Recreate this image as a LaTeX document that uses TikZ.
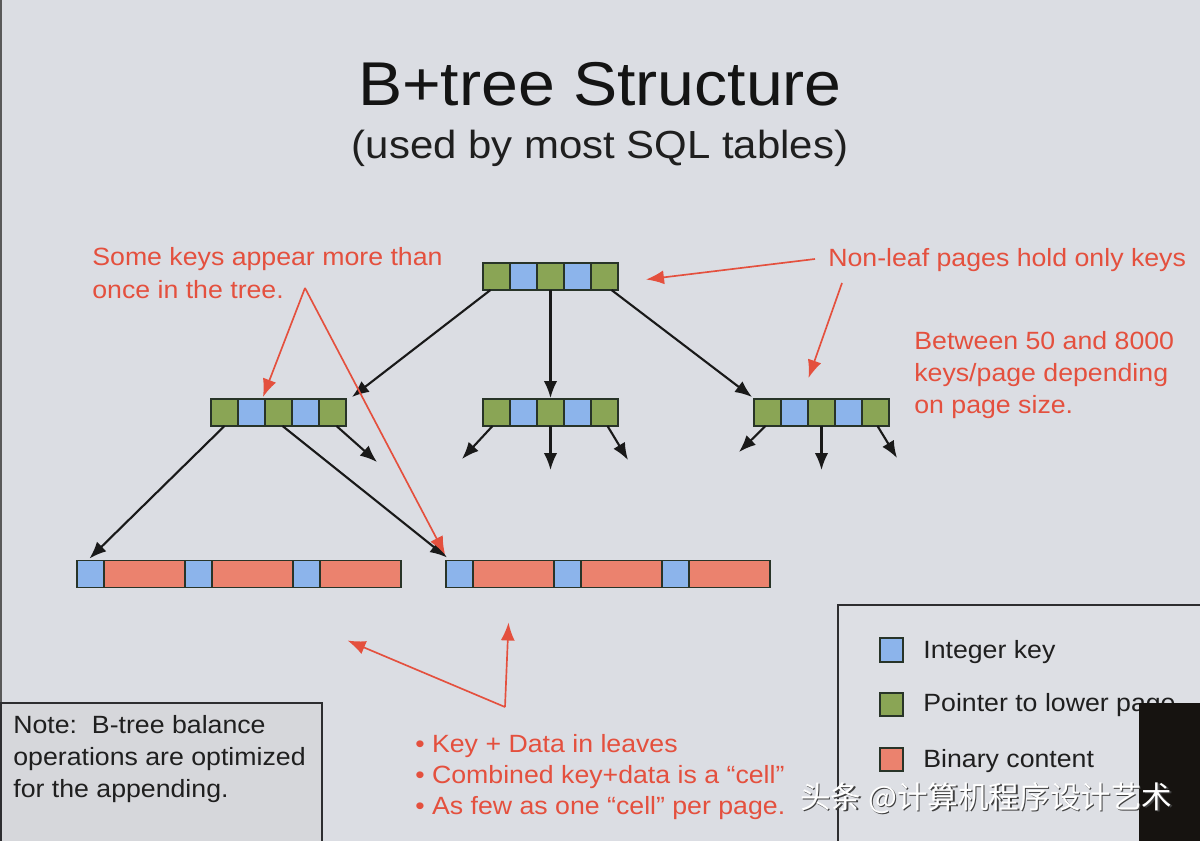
\documentclass[tikz,border=0pt]{standalone}
\usepackage{fontspec}
\setmainfont{Liberation Sans}[FakeStretch=1.07]
\newfontfamily\cjkfont{Noto Sans CJK SC}
\usetikzlibrary{arrows.meta,calc}
\definecolor{bg}{RGB}{219,221,227}
\definecolor{cg}{RGB}{138,165,85}
\definecolor{cb}{RGB}{140,180,235}
\definecolor{cs}{RGB}{235,130,110}
\definecolor{cellborder}{RGB}{40,52,40}
\definecolor{annred}{RGB}{228,80,62}
\definecolor{notefill}{RGB}{214,215,219}
\definecolor{legfill}{RGB}{221,223,228}
\definecolor{boxborder}{RGB}{45,45,48}
\definecolor{darkpatch}{RGB}{22,19,16}
\begin{document}
\begin{tikzpicture}[x=0.02cm,y=-0.02cm,
  cell/.style={draw=cellborder,line width=1.1pt,minimum height=0.54cm,inner sep=0pt,outer sep=0pt},
  kcell/.style={cell,fill=cb,minimum width=0.54cm},
  pcell/.style={cell,fill=cg,minimum width=0.54cm},
  dcell/.style={cell,fill=cs,minimum width=1.62cm},
  barr/.style={draw=black!90,line width=1.2pt,-{Latex[length=0.34cm,width=0.27cm]}},
  rarr/.style={draw=annred,line width=0.95pt,-{Latex[length=0.36cm,width=0.28cm]}},
  ann/.style={text=annred,font=\fontsize{14.2}{17}\selectfont,inner sep=0pt,anchor=base west},
  blk/.style={text=black!88,font=\fontsize{14.2}{17}\selectfont,inner sep=0pt,anchor=base west},
  wmark/.style={inner sep=0pt,anchor=west,font=\cjkfont\fontsize{17.4}{20}\selectfont}
]
\useasboundingbox (0,0) rectangle (1200,841);
\fill[bg] (0,0) rectangle (1200,841);
\fill[black!65] (0,0) rectangle (2,841);

% title
\node[inner sep=0pt,anchor=base,text=black!92,font=\fontsize{35.2}{40}\selectfont] (title) at (600,106) {B+tree Structure};
\node[inner sep=0pt,anchor=base,text=black!88,font=\fontsize{22.3}{26}\selectfont] (subtitle) at (600,158.5) {(used by most SQL tables)};

% root page
\foreach \i/\s in {1/pcell,2/kcell,3/pcell,4/kcell,5/pcell}
  \node[\s] (r\i) at ({483+27*(\i-1)+13.5},276.5) {};
% level 2 pages
\foreach \i/\s in {1/pcell,2/kcell,3/pcell,4/kcell,5/pcell}{
  \node[\s] (l\i) at ({211+27*(\i-1)+13.5},412.5) {};
  \node[\s] (m\i) at ({483+27*(\i-1)+13.5},412.5) {};
  \node[\s] (q\i) at ({754+27*(\i-1)+13.5},412.5) {};
}
% leaves
\foreach \j in {1,2,3}{
  \node[kcell] (ka\j) at ({77+108*(\j-1)+13.5},574) {};
  \node[dcell] (da\j) at ({77+108*(\j-1)+27+40.5},574) {};
  \node[kcell] (kb\j) at ({446+108*(\j-1)+13.5},574) {};
  \node[dcell] (db\j) at ({446+108*(\j-1)+27+40.5},574) {};
}

% free arrow ends
\coordinate (fl) at (377,462);
\coordinate (fm1) at (462,459);
\coordinate (fm3) at (550.5,470);
\coordinate (fm5) at (628,460);
\coordinate (fq1) at (739,452);
\coordinate (fq3) at (821.5,470);
\coordinate (fq5) at (897,458);

% black connectors
\draw[barr] ($(r1.south)+(-6,0)$) -- ($(l5.north east)+(6,-2)$);
\draw[barr] (r3.south) -- ($(m3.north)+(0,-1)$);
\draw[barr] ($(r5.south)+(7,0)$) -- ($(q1.north west)+(-2,-2)$);
\draw[barr] (l1.south) -- ($(ka1.north)+(-1,-2)$);
\draw[barr] ($(l3.south)+(4,0)$) -- ($(kb1.north west)+(1,-3)$);
\draw[barr] ($(l5.south)+(4,0)$) -- (fl);
\draw[barr] ($(m1.south)+(-4,0)$) -- (fm1);
\draw[barr] (m3.south) -- (fm3);
\draw[barr] ($(m5.south)+(3,0)$) -- (fm5);
\draw[barr] ($(q1.south)+(-2,0)$) -- (fq1);
\draw[barr] (q3.south) -- (fq3);
\draw[barr] ($(q5.south)+(2,0)$) -- (fq5);

% annotations
\node[ann] (t1a) at (92,266) {Some keys appear more than};
\node[ann] (t1b) at (92,298) {once in the tree.};
\node[ann] (t2) at (828,267) {Non-leaf pages hold only keys};
\node[ann] (t3a) at (914,349) {Between 50 and 8000};
\node[ann] (t3b) at (914,381) {keys/page depending};
\node[ann] (t3c) at (914,413) {on page size.};
\node[ann] (b1) at (415,752) {• Key + Data in leaves};
\node[ann] (b2) at (415,783) {• Combined key+data is a “cell”};
\node[ann] (b3) at (415,814) {• As few as one “cell” per page.};

% red arrows
\coordinate (ap1) at (305,288);
\coordinate (ap2s) at (815,259);
\coordinate (ap3s) at (842,283);
\coordinate (ap4) at (505,707);
\draw[rarr] (ap1) -- ($(l2.north east)+(-2,-2)$);
\draw[rarr] (ap1) -- ($(kb1.north west)+(-1,-6)$);
\draw[rarr] (ap2s) -- ($(r5.east)+(28,3)$);
\draw[rarr] (ap3s) -- ($(q3.north)+(-13,-21)$);
\draw[rarr] (ap4) -- ($(da3.south)+(-13,53)$);
\draw[rarr] (ap4) -- ($(kb2.south)+(-59,35)$);

% note box
\draw[draw=boxborder,line width=1.2pt,fill=notefill] (1,703) rectangle (322,845);
\node[blk] (n1) at (13,733) {Note:\ \ B-tree balance};
\node[blk] (n2) at (13,765) {operations are optimized};
\node[blk] (n3) at (13,797) {for the appending.};

% legend box
\draw[draw=boxborder,line width=1.2pt,fill=legfill] (838,605) rectangle (1210,850);
\node[cell,fill=cb,minimum width=0.47cm,minimum height=0.47cm] (lg1) at (891.5,650) {};
\node[cell,fill=cg,minimum width=0.47cm,minimum height=0.47cm] (lg2) at (891.5,704.5) {};
\node[cell,fill=cs,minimum width=0.47cm,minimum height=0.47cm] (lg3) at (891.5,759.5) {};
\node[blk] (lt1) at (923,658) {Integer key};
\node[blk] (lt2) at (923,711) {Pointer to lower page};
\node[blk] (lt3) at (923,767) {Binary content};

% dark patch (video overlay)
\fill[darkpatch] (1139,703) rectangle (1200,841);

% watermark
\node[wmark,text=black!75] (wms) at (801.2,799.2) {头条 @计算机程序设计艺术};
\node[wmark,text=white] (wm) at (800,798) {头条 @计算机程序设计艺术};
\end{tikzpicture}
\end{document}
